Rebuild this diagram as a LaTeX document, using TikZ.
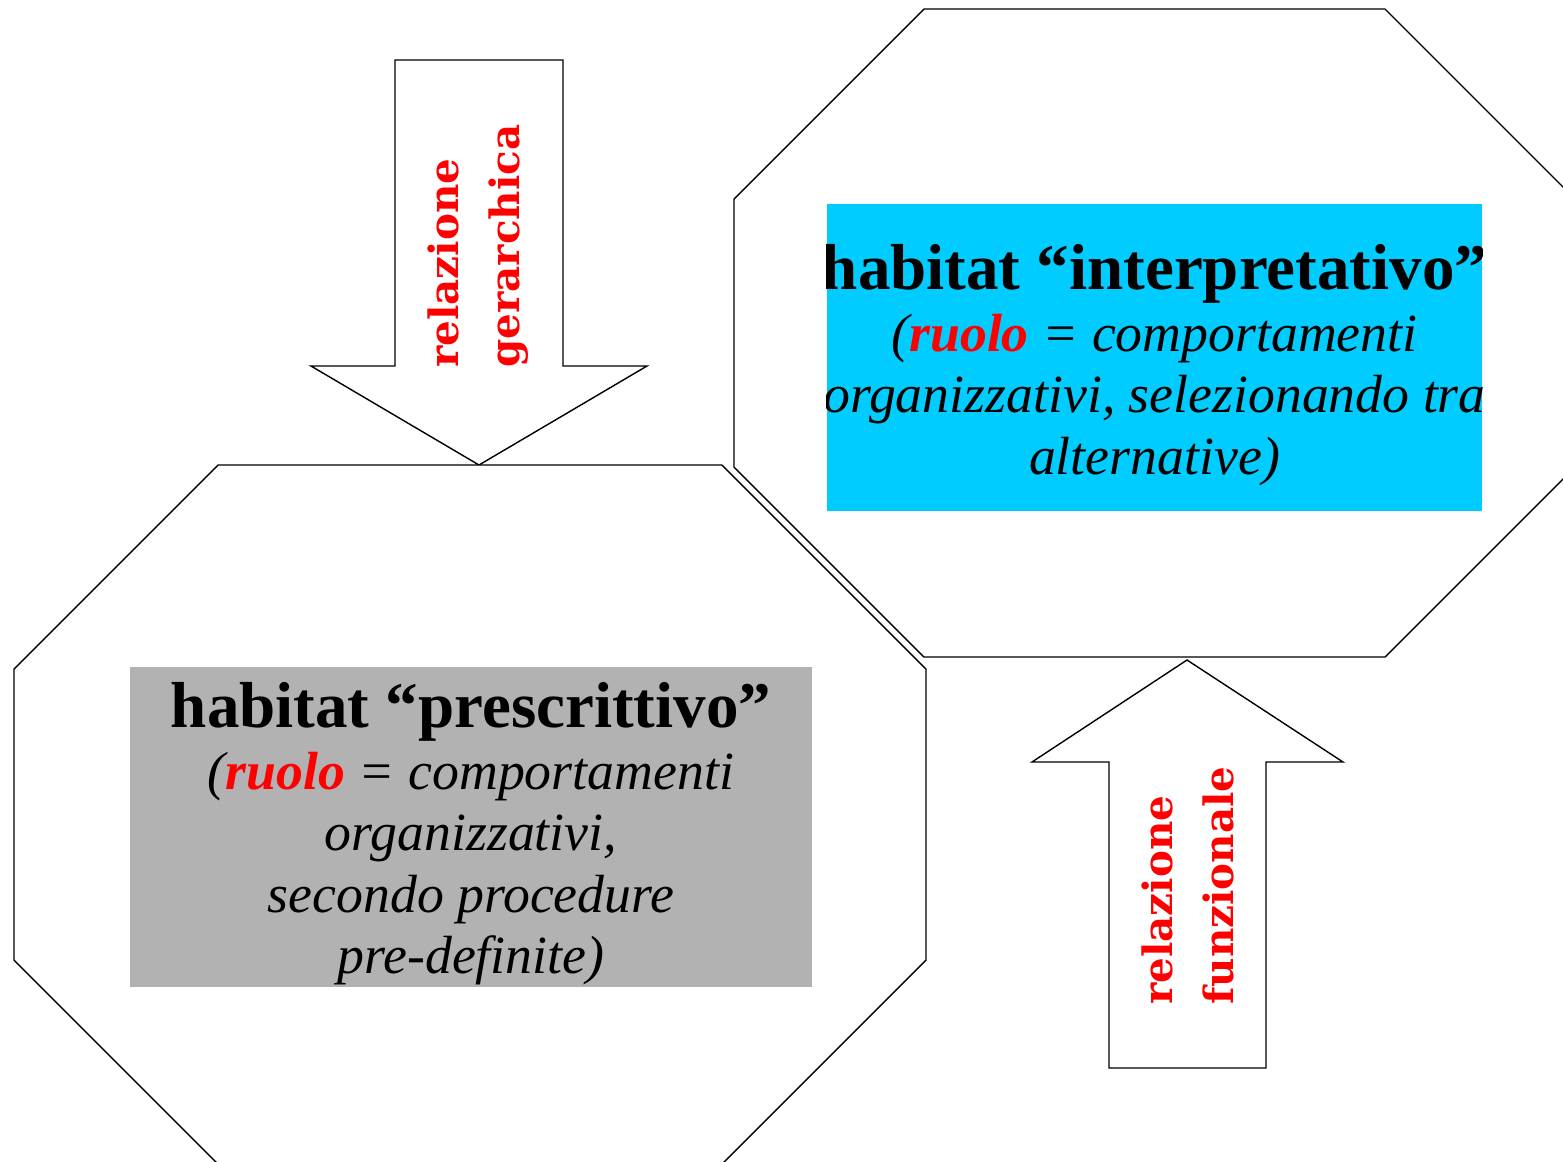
\documentclass[tikz,border=0pt]{standalone}
\usepackage{fontspec}
\setmainfont{Liberation Serif}
\newfontfamily\relfont{DejaVu Serif}

\definecolor{boxgray}{RGB}{178,178,178}
\definecolor{boxcyan}{RGB}{0,204,255}

\tikzset{
  outline/.style={draw=black, line width=0.8pt, fill=white, line join=miter},
  reltext/.style={rotate=90, anchor=west, inner sep=0pt, align=left, text=red,
    font=\relfont\bfseries\fontsize{23}{35}\selectfont},
  habtext/.style={align=center, inner sep=0pt, font=\fontsize{30.6}{35}\selectfont\itshape},
  habbox/.style={inner sep=0pt, draw=none}
}

\begin{document}
\begin{tikzpicture}[x=0.02cm, y=-0.02cm]
		\useasboundingbox (0,0) rectangle (1563,1161);
		\clip (0,0) rectangle (1563,1161);
		% freccia in basso
		\draw [outline] (395,60) -- (563,60) -- (563,366) -- (647,366) -- (479,465) -- (311,366) -- (395,366) -- cycle;
		% ottagoni
		\draw [outline] (218,465) -- (722,465) -- (926,669) -- (926,960) -- (722,1164) -- (218,1164) -- (14,960) -- (14,669) -- cycle;
		\draw [outline] (924,9) -- (1385,9) -- (1575,199) -- (1575,467) -- (1385,657) -- (924,657) -- (734,467) -- (734,199) -- cycle;
		% freccia in alto
		\draw [outline] (1109,1068) -- (1109,762) -- (1032,762) -- (1187,660) -- (1343,762) -- (1266,762) -- (1266,1068) -- cycle;
		\node [reltext] (gerarchica) at (478,368) {relazione\\gerarchica};
		\node [reltext] (funzionale) at (1188,1005) {relazione\\funzionale};
		% habitat
		\node [habbox, fill=boxgray, minimum width=13.64cm, minimum height=6.4cm] (prescr) at (471,827) {};
		\node [habtext] (prescrtext) at (471,834) {{\fontsize{37}{35}\selectfont\bfseries\upshape habitat “prescrittivo”}\\
			(\textcolor{red}{\bfseries ruolo} = comportamenti\\
			organizzativi,\\
			secondo procedure\\
			pre-definite)};
		\node [habbox, fill=boxcyan, minimum width=13.1cm, minimum height=6.14cm] (interp) at (1154.5,357.5) {};
		\begin{scope}
			\clip (interp.south west) rectangle (interp.north east);
			\node [habtext] (interptext) at (1154.5,365) {{\fontsize{37}{35}\selectfont\bfseries\upshape habitat “interpretativo”}\\
				(\textcolor{red}{\bfseries ruolo} = comportamenti\\
				organizzativi, selezionando tra\\
				alternative)};
		\end{scope}
	\end{tikzpicture}
\end{document}
